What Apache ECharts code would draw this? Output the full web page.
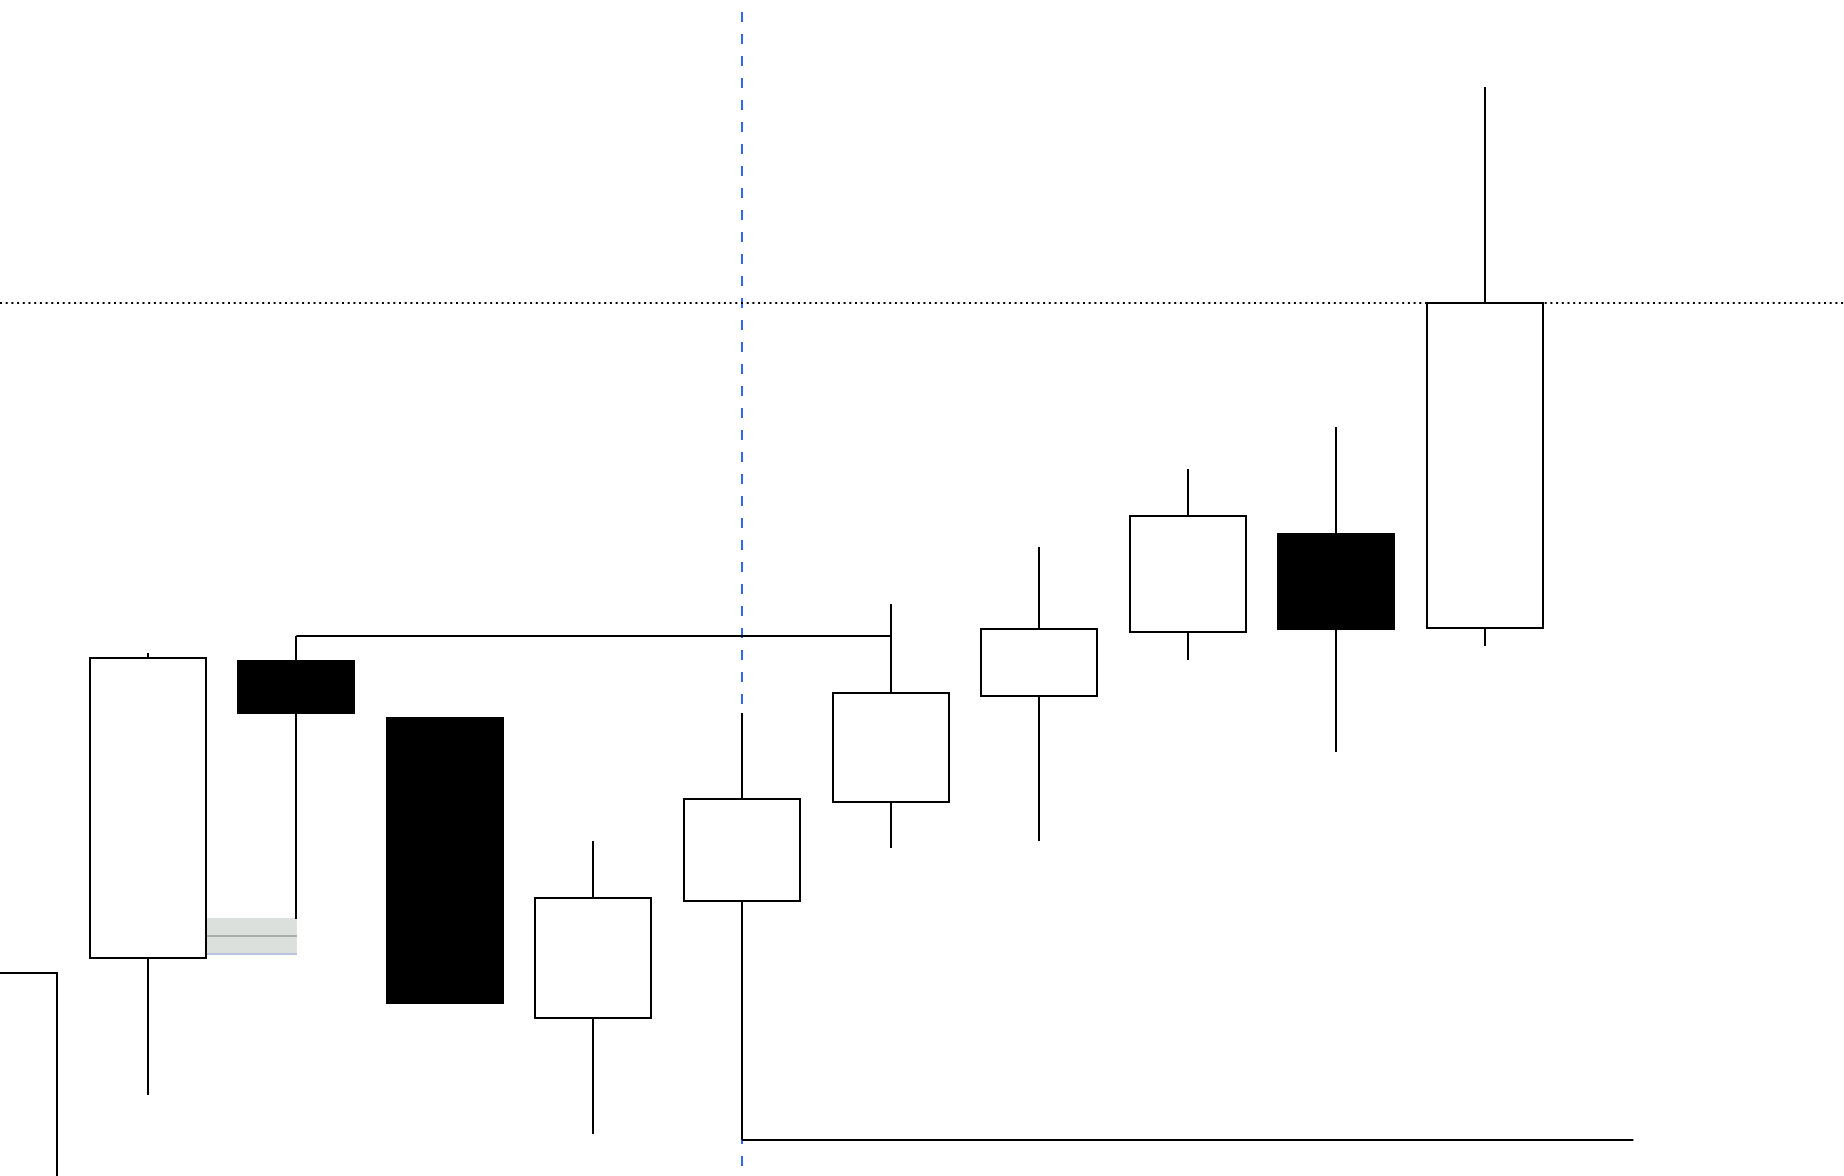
<!DOCTYPE html>
<html>
<head>
<meta charset="utf-8">
<script src="https://cdn.jsdelivr.net/npm/echarts@6/dist/echarts.min.js"></script>
<style>
html,body{margin:0;padding:0;background:#ffffff;}
#chart{width:1844px;height:1176px;}
</style>
</head>
<body>
<div id="chart"></div>
<script>
// ---- data (price units) ----
const periods = [0, 1, 2, 3, 4, 5, 6, 7, 8, 9, 10];
const opens  = [76.0, 104.2, 133.9, 128.2,  98.2, 109.9, 119.8, 130.4, 136.8, 146.6, 137.2];
const closes = [102.7, 134.2, 128.7,  99.7, 110.2, 120.1, 130.7, 137.1, 148.4, 137.1, 169.7];
const lows   = [74.0,  90.5, 108.1,  99.7,  86.6,  86.0, 115.2, 115.9, 134.0, 124.8, 135.4];
const highs  = [102.7, 134.7, 136.4, 128.2, 115.9, 128.7, 139.6, 145.3, 153.1, 157.3, 191.3];

// annotation levels
const resistance = [2, 6, 136.4];      // from period, to period, level
const support    = [5, 11, 86.0];      // from period, to period, level
const lastClose  = 169.7;              // dotted price line
const cursorAt   = 5;                  // crosshair period
const boxX       = [1.39, 2.004];      // grey marker box, period range
const boxY       = [108.2, 104.55];    // grey marker box, price range
const boxMid     = 106.43;
const boxBase    = 104.65;

const candleData = periods.map((p, i) => [p, opens[i], closes[i], lows[i], highs[i]]);
const BODY_W = 116;

function renderCandle(params, api) {
  const x = api.value(0);
  const o = api.coord([x, api.value(1)]);
  const c = api.coord([x, api.value(2)]);
  const l = api.coord([x, api.value(3)]);
  const h = api.coord([x, api.value(4)]);
  const up = api.value(2) >= api.value(1);
  const cx = Math.round(o[0]);
  const top = Math.round(Math.min(o[1], c[1]));
  const bot = Math.round(Math.max(o[1], c[1]));
  const hy = Math.round(h[1]);
  const ly = Math.round(l[1]);
  const children = [];
  if (hy < top) children.push({type: 'line', shape: {x1: cx, y1: hy, x2: cx, y2: top},
    style: {stroke: '#000000', lineWidth: 2}});
  if (ly > bot) children.push({type: 'line', shape: {x1: cx, y1: bot, x2: cx, y2: ly},
    style: {stroke: '#000000', lineWidth: 2}});
  children.push({type: 'rect', shape: {x: cx - BODY_W / 2, y: top, width: BODY_W, height: bot - top},
    style: {fill: up ? '#ffffff' : '#000000', stroke: '#000000', lineWidth: 2}});
  return {type: 'group', children: children};
}

const chart = echarts.init(document.getElementById('chart'), null, {renderer: 'canvas'});
chart.setOption({
  animation: false,
  backgroundColor: '#ffffff',
  grid: {left: 0, right: 0, top: 0, bottom: 0},
  xAxis: {type: 'value', min: 0.0054, max: 12.4179, show: false},
  yAxis: {type: 'value', min: 82.4, max: 200, show: false},
  series: [{
    type: 'custom',
    data: candleData,
    encode: {x: 0, y: [1, 2, 3, 4]},
    renderItem: renderCandle,
    z: 2,
    silent: true,
    markLine: {
      z: 1,
      silent: true,
      symbol: ['none', 'none'],
      label: {show: false},
      lineStyle: {type: 'solid'},
      data: [
        {xAxis: cursorAt, lineStyle: {color: '#3366ff', width: 2, type: [10, 12], dashOffset: 12}},
        {yAxis: lastClose, lineStyle: {color: '#000000', width: 2, type: [2, 3.7]}},
        [{coord: [resistance[0], resistance[2]], lineStyle: {color: '#000000', width: 2, type: 'solid'}},
         {coord: [resistance[1], resistance[2]]}],
        [{coord: [support[0], support[2]], lineStyle: {color: '#000000', width: 2, type: 'solid'}},
         {coord: [support[1], support[2]]}],
        [{coord: [boxX[0], boxMid], lineStyle: {color: '#9a9e9a', width: 1.5, type: 'solid'}},
         {coord: [boxX[1], boxMid]}],
        [{coord: [boxX[0], boxBase], lineStyle: {color: '#a9b8de', width: 1.5, type: 'solid'}},
         {coord: [boxX[1], boxBase]}]
      ]
    },
    markArea: {
      z: 0,
      silent: true,
      label: {show: false},
      data: [[
        {coord: [boxX[0], boxY[0]], itemStyle: {color: '#dce0dc'}},
        {coord: [boxX[1], boxY[1]]}
      ]]
    }
  }]
});
</script>
</body>
</html>
